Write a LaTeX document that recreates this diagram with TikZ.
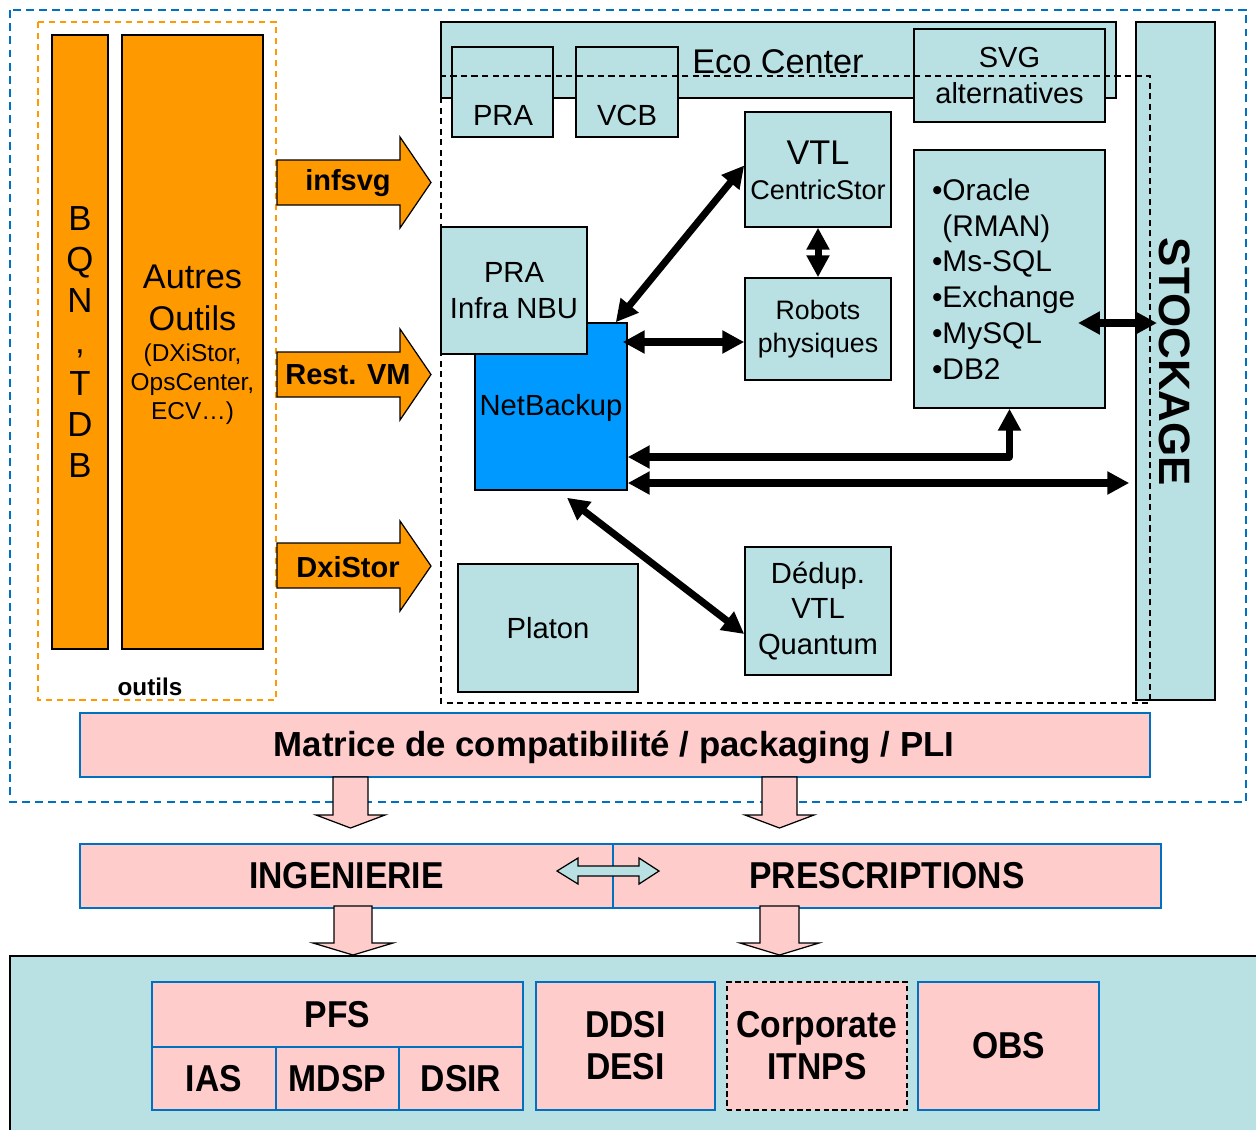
\documentclass[tikz,border=0pt]{standalone}
\usepackage{fontspec}
\setmainfont{Liberation Sans}
\newfontfamily\narrowfont[FakeStretch=0.9]{Liberation Sans}
\usepackage{xcolor}
\usepackage{tikz}
\usetikzlibrary{arrows.meta}

\definecolor{ecoteal}{HTML}{B9E0E3}
\definecolor{tooporange}{HTML}{FF9900}
\definecolor{matpink}{HTML}{FFCCCC}
\definecolor{frameblue}{HTML}{0070C0}
\definecolor{nbublue}{HTML}{0099FF}

\begin{document}
\begin{tikzpicture}[x=0.02cm, y=-0.02cm, inner sep=0pt,
    ecobox/.style={shape=rectangle, draw=black, fill=ecoteal, line width=0.9pt},
    toolbox/.style={shape=rectangle, draw=black, fill=tooporange, line width=0.9pt},
    pinkbox/.style={shape=rectangle, draw=frameblue, fill=matpink, line width=1.2pt},
    fat/.style={line width=4pt, {Triangle[length=12.5pt,width=12.5pt]}-{Triangle[length=12.5pt,width=12.5pt]}},
    blockarrow/.style={draw=black, line width=0.7pt},
    bigtxt/.style={font=\fontsize{19.5}{23.5}\selectfont},
    midtxt/.style={font=\fontsize{16.6}{20.4}\selectfont},
    boldtxt/.style={font=\fontsize{16.5}{20}\selectfont\bfseries},
    narrowtxt/.style={font=\fontsize{21.3}{23.8}\selectfont\narrowfont\bfseries}]
    \useasboundingbox (0,0) rectangle (1256,1129);

    % cadre general et outils
    \draw[frameblue, line width=1.1pt, dash pattern=on 4.5pt off 3pt] (10,10) rectangle (1246,802);
    \draw[tooporange, line width=0.8pt, dash pattern=on 3.5pt off 2.8pt] (38,22) rectangle (276,700);
    \node[toolbox, minimum width=1.12cm, minimum height=12.28cm, align=center, font=\fontsize{19.8}{23.5}\selectfont] (bqn) at (80,342) {B\\Q\\N\\,\\T\\D\\B};
    \node[toolbox, minimum width=2.82cm, minimum height=12.28cm] (aut) at (192.5,342) {};
    \node[align=center, font=\fontsize{19.5}{23.8}\selectfont] (autt) at (192.5,298) {Autres\\Outils};
    \node[align=center, font=\fontsize{13.9}{16.5}\selectfont] (autd) at (192.5,384) {(DXiStor,\\OpsCenter,\\ECV…)};
    \node[font=\fontsize{13.8}{16}\selectfont\bfseries] (outils) at (150,687) {outils};

    % fleches outils
    \draw[blockarrow, fill=tooporange] (277,160) -- (400,160) -- (400,137) -- (431,182.5) -- (400,228) -- (400,205) -- (277,205) -- cycle;
    \node[boldtxt] (infsvg) at (348,183) {infsvg};
    \draw[blockarrow, fill=tooporange] (277,352) -- (400,352) -- (400,329) -- (431,374.5) -- (400,420) -- (400,397) -- (277,397) -- cycle;
    \node[boldtxt] (restvm) at (348,375) {Rest. VM};
    \draw[blockarrow, fill=tooporange] (277,543) -- (400,543) -- (400,521) -- (431,566) -- (400,611) -- (400,588) -- (277,588) -- cycle;
    \node[boldtxt] (dxistor) at (348,567) {DxiStor};

    % Eco Center
    \node[ecobox, minimum width=13.5cm, minimum height=1.52cm] (eco) at (778.5,60) {};
    \node[font=\fontsize{19.5}{23}\selectfont] (ecot) at (778,62) {Eco Center};
    \node[ecobox, minimum width=2.02cm, minimum height=1.8cm] (pra) at (502.5,92) {};
    \node[midtxt] (prat) at (503,115) {PRA};
    \node[ecobox, minimum width=2.04cm, minimum height=1.8cm] (vcb) at (627,92) {};
    \node[midtxt] (vcbt) at (627,115) {VCB};
    \node[ecobox, minimum width=3.82cm, minimum height=1.86cm, align=center, font=\fontsize{16.5}{20.4}\selectfont] (svg) at (1009.5,75.5) {SVG\\alternatives};
    \node[ecobox, minimum width=1.58cm, minimum height=13.56cm] (stk) at (1175.5,361) {};

    % perimetre NetBackup
    \node[ecobox, minimum width=2.92cm, minimum height=2.3cm] (vtl) at (818,169.5) {};
    \node[font=\fontsize{19.5}{22}\selectfont] (vtlt) at (818,153) {VTL};
    \node[font=\fontsize{15.4}{18}\selectfont] (vtld) at (818,190) {CentricStor};
    \node[ecobox, minimum width=2.92cm, minimum height=2.04cm, align=center, font=\fontsize{15.2}{18.7}\selectfont] (rob) at (818,329) {Robots\\physiques};
    \node[ecobox, minimum height=5.16cm, text width=3.1cm, inner xsep=0.36cm, align=left, font=\fontsize{17}{20.4}\selectfont] (ora) at (1009.5,279)
        {•Oracle\\\hphantom{•}(RMAN)\\•Ms-SQL\\•Exchange\\•MySQL\\•DB2};
    \node[shape=rectangle, draw=black, fill=nbublue, line width=0.9pt, minimum width=3.04cm, minimum height=3.34cm] (nbu) at (551,406.5) {};
    \node[midtxt] (nbut) at (551,408) {NetBackup};
    \node[ecobox, minimum width=2.92cm, minimum height=2.54cm, align=center, midtxt] (pin) at (514,290.5) {PRA\\Infra NBU};
    \node[ecobox, minimum width=3.6cm, minimum height=2.56cm, midtxt] (plt) at (548,628) {Platon};
    \node[ecobox, minimum width=2.92cm, minimum height=2.56cm, align=center, midtxt] (ddp) at (818,611) {Dédup.\\VTL\\Quantum};
    \draw[black, line width=0.8pt, dash pattern=on 3.5pt off 2.5pt] (441,76) rectangle (1150,703);
    \node[rotate=-90, font=\fontsize{25}{28}\selectfont\bfseries] (stkt) at (1175,362) {STOCKAGE};

    \coordinate (oraS) at (1078,323);
    \coordinate (stkS) at (1157,323);
    \draw[fat] ([shift={(-12,0)}]nbu.north east) -- ([shift={(0,-4)}]vtl.west);
    \draw[fat] (vtl.south) -- (rob.north);
    \draw[fat] ([shift={(-5,0)}]nbu.east |- 0,342) -- (rob.west |- 0,342);
    \draw[fat] (oraS) -- (stkS);
    \draw[fat, line join=round] (nbu.east |- 0,457) -| (ora.south);
    \draw[fat] (nbu.east |- 0,483) -- ([shift={(-6,0)}]stk.west |- 0,483);
    \draw[fat] ([shift={(16,7)}]nbu.south) -- ([shift={(0,23)}]ddp.west);

    % matrice et organisation
    \node[pinkbox, minimum width=21.4cm, minimum height=1.28cm] (mat) at (615,745) {};
    \node[font=\fontsize{19.8}{23}\selectfont\bfseries] (matt) at (614,747) {Matrice de compatibilité / packaging / PLI};
    \draw[blockarrow, fill=matpink] (333,777) -- (368,777) -- (368,815) -- (385,815) -- (350.5,828) -- (316,815) -- (333,815) -- cycle;
    \draw[blockarrow, fill=matpink] (762,777) -- (797,777) -- (797,815) -- (814,815) -- (779.5,828) -- (745,815) -- (762,815) -- cycle;
    \node[pinkbox, minimum width=10.66cm, minimum height=1.28cm, narrowtxt] (ing) at (346.5,876) {INGENIERIE};
    \node[pinkbox, minimum width=10.96cm, minimum height=1.28cm, narrowtxt] (pre) at (887,876) {PRESCRIPTIONS};
    \draw[blockarrow, fill=ecoteal] (557,871) -- (578,858) -- (578,866) -- (639,866) -- (639,858) -- (659,871) -- (639,884) -- (639,876) -- (578,876) -- (578,884) -- cycle;

    % entites
    \draw[black, line width=0.9pt, fill=ecoteal] (10,956) rectangle (1300,1200);
    \draw[blockarrow, fill=matpink] (334,906) -- (372,906) -- (372,943) -- (393,943) -- (353,955) -- (313,943) -- (334,943) -- cycle;
    \draw[blockarrow, fill=matpink] (760,906) -- (799,906) -- (799,943) -- (819,943) -- (779.5,955) -- (740,943) -- (760,943) -- cycle;
    \node[pinkbox, minimum width=7.42cm, minimum height=1.3cm, narrowtxt] (pfs) at (337.5,1014.5) {PFS};
    \node[pinkbox, minimum width=2.48cm, minimum height=1.26cm, narrowtxt] (ias) at (214,1078.5) {IAS};
    \node[pinkbox, minimum width=2.46cm, minimum height=1.26cm, narrowtxt] (mdsp) at (337.5,1078.5) {MDSP};
    \node[pinkbox, minimum width=2.48cm, minimum height=1.26cm, narrowtxt] (dsir) at (461,1078.5) {DSIR};
    \node[pinkbox, minimum width=3.58cm, minimum height=2.56cm, align=center, narrowtxt] (ddsi) at (625.5,1046) {DDSI\\DESI};
    \node[shape=rectangle, draw=black, fill=matpink, line width=0.8pt, dash pattern=on 3pt off 2pt, minimum width=3.6cm, minimum height=2.56cm, align=center, narrowtxt] (corp) at (817,1046) {Corporate\\ITNPS};
    \node[pinkbox, minimum width=3.62cm, minimum height=2.56cm, narrowtxt] (obs) at (1008.5,1046) {OBS};
\end{tikzpicture}
\end{document}
